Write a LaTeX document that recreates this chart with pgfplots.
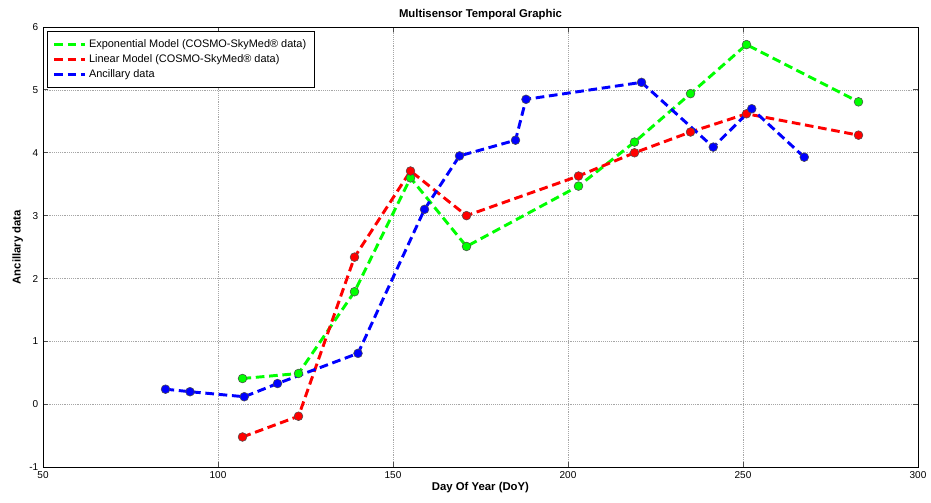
\documentclass[border=0pt]{standalone}
\usepackage{fontspec}
\setmainfont{Liberation Sans}
\usepackage{pgfplots}
\pgfplotsset{compat=1.18}
\definecolor{mgreen}{RGB}{0,255,0}
\definecolor{mred}{RGB}{255,0,0}
\definecolor{mblue}{RGB}{0,0,255}
\begin{document}
\begin{tikzpicture}
\begin{axis}[
  name=ax,
  scale only axis,
  width=656pt, height=330pt,
  xmin=50, xmax=300, ymin=-1, ymax=6,
  xtick={50,100,...,300}, ytick={-1,0,...,6},
  grid=major,
  grid style={gray!70, densely dotted, line width=0.4pt},
  tick align=inside,
  major tick length=4pt,
  axis line style={black, line width=0.6pt},
  tick style={black!70, line width=0.6pt},
  /pgf/number format/assume math mode=true,
  ticklabel style={font=\fontsize{7.5}{8}\selectfont},
  title={\fontsize{8.5}{10}\selectfont\bfseries Multisensor Temporal Graphic},
  title style={yshift=-4pt},
  xlabel={\fontsize{8.5}{10}\selectfont\bfseries Day Of Year (DoY)},
  ylabel={\fontsize{8.5}{10}\selectfont\bfseries Ancillary data},
  xlabel style={yshift=4pt},
  ylabel style={yshift=-2pt},
  every axis plot/.append style={line width=2.2pt, dash pattern=on 6.5pt off 3.5pt},
  legend style={at={(0,1)}, anchor=north west, xshift=3pt, yshift=-3pt,
    draw=black, line width=0.6pt, fill=white,
    font=\fontsize{8.2}{10}\selectfont, row sep=0pt, inner xsep=4pt, inner ysep=4pt,
    cells={anchor=west}},
  legend image code/.code={\draw[#1, mark=none] (0pt,0pt) -- (23pt,0pt);},
]
\addplot[mgreen, mark=*, mark size=3.3pt, mark options={solid, fill=mgreen, draw=black!70, line width=0.4pt}] coordinates {
  (107,0.41)(123,0.49)(139,1.79)(155,3.60)(171,2.51)(203,3.47)(219,4.17)(235,4.94)(251,5.72)(283,4.81)
};
\addlegendentry{Exponential Model (COSMO-SkyMed® data)}
\addplot[mred, mark=*, mark size=3.3pt, mark options={solid, fill=mred, draw=black!70, line width=0.4pt}] coordinates {
  (107,-0.52)(123,-0.19)(139,2.34)(155,3.71)(171,3.00)(203,3.63)(219,4.00)(235,4.33)(251,4.62)(283,4.28)
};
\addlegendentry{Linear Model (COSMO-SkyMed® data)}
\addplot[mblue, mark=*, mark size=3.3pt, mark options={solid, fill=mblue, draw=black!70, line width=0.4pt}] coordinates {
  (85,0.24)(92,0.20)(107.5,0.12)(117,0.33)(140,0.81)(159,3.10)(169,3.95)(185,4.20)(188,4.85)(221,5.12)(241.5,4.09)(252.5,4.70)(267.5,3.93)
};
\addlegendentry{Ancillary data}
\end{axis}
\pgfresetboundingbox
\path[use as bounding box] ([xshift=-32.25pt, yshift=-26.25pt]ax.south west) rectangle ([xshift=9.75pt, yshift=20.25pt]ax.north east);
\end{tikzpicture}
\end{document}
